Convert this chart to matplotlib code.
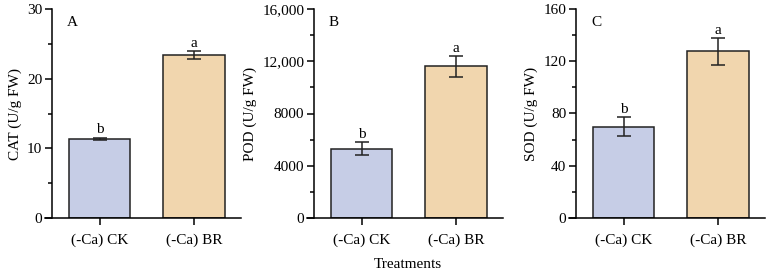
import matplotlib.pyplot as plt
from matplotlib.ticker import FuncFormatter, MultipleLocator

plt.rcParams['font.family'] = ['Liberation Serif', 'DejaVu Serif']

treatments = ['(-Ca) CK', '(-Ca) BR']
cat_mean = [11.4, 23.4]
cat_err = [0.15, 0.6]
pod_mean = [5300, 11600]
pod_err = [480, 800]
sod_mean = [69.8, 127.5]
sod_err = [7.2, 10.5]
letters = ['b', 'a']

panels = [
    ('A', 'CAT (U/g FW)', cat_mean, cat_err, 30, 10),
    ('B', 'POD (U/g FW)', pod_mean, pod_err, 16000, 4000),
    ('C', 'SOD (U/g FW)', sod_mean, sod_err, 160, 40),
]
bar_colors = ['#c6cde6', '#f1d6ae']


def fmt(v, pos):
    v = int(round(v))
    return f'{v:,}' if v >= 10000 else str(v)


W, H = 769, 275
fig = plt.figure(figsize=(W / 100, H / 100), dpi=100)

for i, (tag, ylab, mean, err, ymax, step) in enumerate(panels):
    left_px = 45 + 262 * i
    ax = fig.add_axes([left_px / W, (H - 218) / H, 196 / W, 209 / H])
    x = list(range(len(treatments)))
    ax.bar(x, mean, width=0.65, color=bar_colors, edgecolor='#222222', linewidth=1.1,
           zorder=2)
    ax.errorbar(x, mean, yerr=err, fmt='none', ecolor='#222222', elinewidth=1.1,
                capsize=5, capthick=1.1, zorder=3)
    for xi, m, e, lt in zip(x, mean, err, letters):
        ax.text(xi, m + e + ymax * 0.005, lt, ha='center', va='bottom', fontsize=11)
    ax.set_xlim(-0.58, 1.5)
    ax.set_ylim(0, ymax)
    ax.spines['left'].set_position(('data', -0.505))
    for s in ['top', 'right']:
        ax.spines[s].set_visible(False)
    for s in ['left', 'bottom']:
        ax.spines[s].set_linewidth(1.1)
    ax.set_xticks(x)
    ax.set_xticklabels(treatments, fontsize=11)
    ax.yaxis.set_major_locator(MultipleLocator(step))
    ax.yaxis.set_minor_locator(MultipleLocator(step / 2))
    ax.yaxis.set_major_formatter(FuncFormatter(fmt))
    ax.tick_params(axis='both', which='major', length=5, width=1.1, labelsize=11, pad=2)
    ax.tick_params(axis='y', which='minor', length=3, width=1.1)
    ax.tick_params(axis='x', pad=6)
    ax.set_ylabel(ylab, fontsize=11, labelpad=4)
    ax.text(0.112, 0.935, tag, transform=ax.transAxes, ha='left', va='center', fontsize=11)

fig.text(408 / W, 1 - 264 / H, 'Treatments', ha='center', va='center', fontsize=11)

fig.savefig('out.png', dpi=100)
